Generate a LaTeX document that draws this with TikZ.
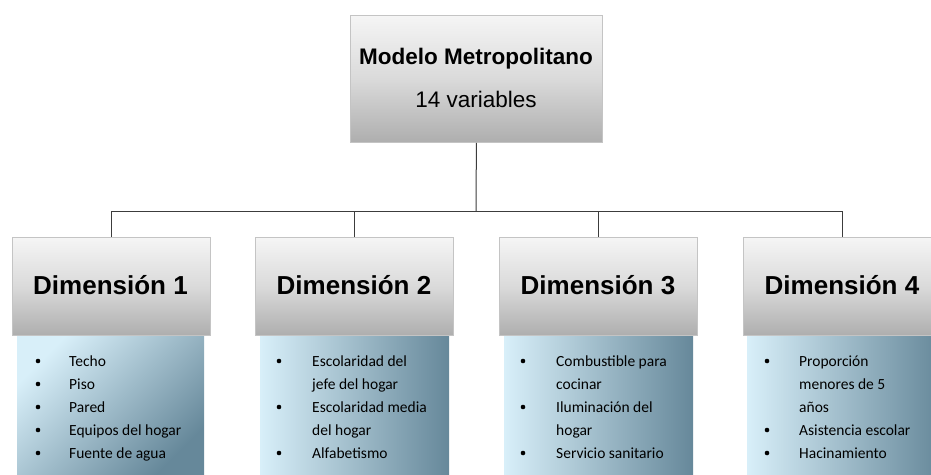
\documentclass[tikz,border=0pt]{standalone}
\usepackage{fontspec}
\setmainfont{Carlito}
\newfontfamily\arialf{Liberation Sans}
\definecolor{grtop}{HTML}{F5F5F5}
\definecolor{grmid}{HTML}{DADADA}
\definecolor{grbot}{HTML}{AEAEAE}
\definecolor{grline}{HTML}{C4C4C4}
\definecolor{blleft}{HTML}{D8EFF9}
\definecolor{blright}{HTML}{66889A}
\definecolor{conn}{HTML}{3C3C3C}
\tikzset{
  graybox/.style={draw=grline, line width=0.8pt, top color=grtop, bottom color=grbot, middle color=grmid,
    minimum width=198pt, minimum height=98pt, inner sep=0pt, anchor=north west},
  bluebox/.style={draw=none, left color=blleft, right color=blright, inner sep=0pt, anchor=north west,
    minimum height=140pt},
  item/.style={anchor=base west, inner sep=0pt, font=\fontsize{15.5}{18}\selectfont},
  headtext/.style={anchor=base, inner sep=0pt, font=\arialf\bfseries\fontsize{26}{30}\selectfont},
  conline/.style={draw=conn, line width=1pt},
  bul/.style={fill=black, circle, inner sep=0pt, minimum size=4.6pt}
}
\begin{document}
\begin{tikzpicture}[x=1pt,y=-1pt]
\useasboundingbox (0,0) rectangle (931,474);
\clip (0,0) rectangle (931,474);
% blue boxes
\node[bluebox, minimum width=187pt, shading angle=45] (b1) at (17,335) {};
\node[bluebox, minimum width=189pt] (b2) at (260,335) {};
\node[bluebox, minimum width=189pt] (b3) at (504,335) {};
\node[bluebox, minimum width=194pt] (b4) at (747,335) {};
% gray boxes
\node[graybox, minimum width=252pt, minimum height=127pt] (top) at (350,15) {};
\node[anchor=base, inner sep=0pt, font=\arialf\bfseries\fontsize{22.5}{26}\selectfont] (t1) at (476,64) {Modelo Metropolitano};
\node[anchor=base, inner sep=0pt, font=\arialf\fontsize{22.5}{26}\selectfont] (t2) at (476,107) {14 variables};
\node[graybox] (d1) at (12,237) {};
\node[graybox] (d2) at (255,237) {};
\node[graybox] (d3) at (499,237) {};
\node[graybox] (d4) at (743,237) {};
\node[headtext] (h1) at (110.5,294) {Dimensión 1};
\node[headtext] (h2) at (354,294) {Dimensión 2};
\node[headtext] (h3) at (598,294) {Dimensión 3};
\node[headtext] (h4) at (842,294) {Dimensión 4};
% connectors
\coordinate (bus) at (476,211);
\draw[conline] (top.south) -- (bus);
\draw[conline] (bus) -| (d1.north);
\draw[conline] (bus) -| (d2.north);
\draw[conline] (bus) -| (d3.north);
\draw[conline] (bus) -| (d4.north);
% Dimension 1 items
\node[item] (i11) at (69,366) {Techo};
\node[item] (i12) at (69,389) {Piso};
\node[item] (i13) at (69,412) {Pared};
\node[item] (i14) at (69,435) {Equipos del hogar};
\node[item] (i15) at (69,458) {Fuente de agua};
\foreach \yy in {361,384,407,430,453} \node[bul] at (38,\yy) {};
% Dimension 2 items
\node[item] (i21) at (312,366) {Escolaridad del};
\node[item] (i22) at (312,389) {jefe del hogar};
\node[item] (i23) at (312,412) {Escolaridad media};
\node[item] (i24) at (312,435) {del hogar};
\node[item] (i25) at (312,458) {Alfabetismo};
\foreach \yy in {361,407,453} \node[bul] at (279,\yy) {};
% Dimension 3 items
\node[item] (i31) at (556,366) {Combustible para};
\node[item] (i32) at (556,389) {cocinar};
\node[item] (i33) at (556,412) {Iluminación del};
\node[item] (i34) at (556,435) {hogar};
\node[item] (i35) at (556,458) {Servicio sanitario};
\foreach \yy in {361,407,453} \node[bul] at (523,\yy) {};
% Dimension 4 items
\node[item] (i41) at (799,366) {Proporción};
\node[item] (i42) at (799,389) {menores de 5};
\node[item] (i43) at (799,412) {años};
\node[item] (i44) at (799,435) {Asistencia escolar};
\node[item] (i45) at (799,458) {Hacinamiento};
\foreach \yy in {361,430,453} \node[bul] at (767,\yy) {};
\end{tikzpicture}
\end{document}
